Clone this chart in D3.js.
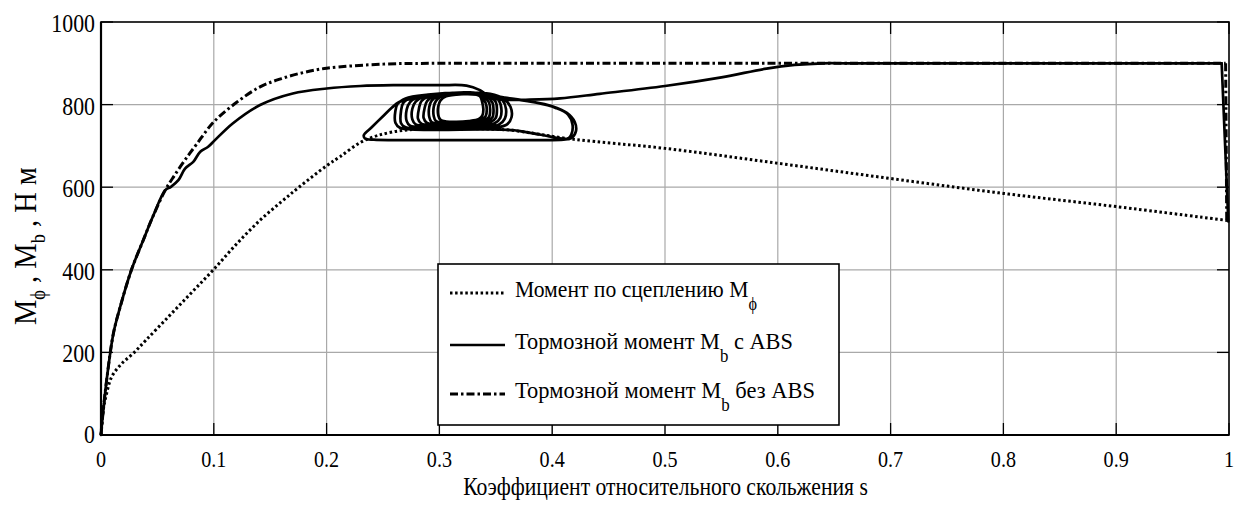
<!DOCTYPE html>
<html>
<head>
<meta charset="utf-8">
<script src="https://cdn.jsdelivr.net/npm/d3@7"></script>
<style>
  html, body { margin: 0; padding: 0; background: #fff; }
  svg { display: block; }
  text { font-family: "Liberation Serif", "Times New Roman", serif; fill: #000; }
</style>
</head>
<body>
<svg id="chart" width="1234" height="506"></svg>
<script>
// Slip axis ticks and labels
const slipTicks = [0, 0.1, 0.2, 0.3, 0.4, 0.5, 0.6, 0.7, 0.8, 0.9, 1];
const slipTickLabels = ["0", "0.1", "0.2", "0.3", "0.4", "0.5", "0.6", "0.7", "0.8", "0.9", "1"];
// Torque axis ticks and labels
const torqueTicks = [0, 200, 400, 600, 800, 1000];
const torqueTickLabels = ["0", "200", "400", "600", "800", "1000"];

// Adhesion (friction) torque M_phi versus slip s: [s, M]
const frictionTorque = [
  [0, 0], [0.002, 60], [0.005, 101], [0.0095, 141], [0.018, 172], [0.0287, 198],
  [0.04, 230], [0.06, 287], [0.08, 344], [0.0996, 400], [0.12, 462], [0.141, 520],
  [0.16, 565], [0.176, 601], [0.2, 652], [0.212, 674], [0.2325, 712], [0.259, 734],
  [0.3, 743], [0.34, 741], [0.363, 738], [0.419, 716], [0.5, 694], [0.6, 658],
  [0.7, 621], [0.8, 585], [0.9, 553], [1.0, 519]
];

// Brake torque with ABS: trajectory in (s, M), including the limit cycles
const brakeTorqueAbs = [
  [0, 0], [0.002, 60], [0.005, 133], [0.011, 246], [0.017, 310], [0.027, 400],
  [0.0375, 472], [0.046, 529], [0.057, 593], [0.062, 601], [0.0686, 617], [0.0745, 645],
  [0.082, 662], [0.088, 686], [0.095, 698], [0.101, 714], [0.117, 755], [0.141, 799],
  [0.17, 827], [0.2, 839], [0.23, 845], [0.259, 847], [0.3, 847], [0.324, 846],
  [0.336, 835], [0.343, 823],
  // first wide cycle
  [0.358, 817], [0.38, 808], [0.4, 796], [0.413, 780], [0.42, 758], [0.421, 735],
  [0.417, 719], [0.41, 715], [0.38, 714], [0.32, 714], [0.26, 714], [0.242, 715],
  [0.234, 718], [0.233, 726], [0.24, 745], [0.25, 772], [0.258, 793], [0.264, 806],
  [0.275, 814], [0.3, 822], [0.33, 826], [0.352, 820], [0.36, 816],
  [0.385, 805], [0.403, 792], [0.414, 776], [0.418, 752], [0.417, 728], [0.414, 718],
  [0.39, 727], [0.365, 738], [0.34, 740], [0.3, 739], [0.275, 740], [0.265, 744],
  [0.261, 756], [0.261, 785], [0.263, 802],
  // converging cycles
  [0.27, 815], [0.29, 824], [0.32, 829], [0.345, 826], [0.357, 814], [0.363, 795],
  [0.364, 770], [0.36, 752], [0.35, 744], [0.32, 742], [0.285, 742], [0.27, 745],
  [0.266, 755], [0.266, 785], [0.268, 804],
  [0.276, 817], [0.3, 826], [0.325, 829], [0.347, 824], [0.356, 810], [0.359, 790],
  [0.358, 766], [0.353, 752], [0.34, 746], [0.31, 744], [0.285, 745], [0.274, 749],
  [0.271, 760], [0.271, 788], [0.274, 806],
  [0.281, 818], [0.305, 827], [0.327, 829], [0.345, 823], [0.353, 808], [0.355, 788],
  [0.354, 768], [0.349, 755], [0.335, 749], [0.31, 747], [0.29, 748], [0.279, 752],
  [0.276, 764], [0.276, 790], [0.279, 807],
  [0.286, 819], [0.308, 827], [0.329, 829], [0.343, 822], [0.35, 806], [0.351, 786],
  [0.35, 768], [0.345, 757], [0.332, 751], [0.31, 749], [0.293, 750], [0.284, 754],
  [0.281, 766], [0.282, 792], [0.284, 808],
  [0.29, 819], [0.31, 827], [0.33, 829], [0.341, 821], [0.347, 805], [0.348, 786],
  [0.347, 769], [0.342, 759], [0.33, 753], [0.312, 751], [0.297, 752], [0.289, 756],
  [0.286, 768], [0.287, 793], [0.289, 808],
  [0.294, 819], [0.312, 827], [0.331, 828], [0.339, 820], [0.344, 805], [0.345, 787],
  [0.344, 770], [0.339, 761], [0.328, 755], [0.313, 753], [0.3, 754], [0.293, 758],
  [0.291, 770], [0.291, 794], [0.293, 809],
  [0.298, 819], [0.315, 826], [0.331, 827], [0.337, 819], [0.341, 804], [0.342, 788],
  [0.341, 772], [0.337, 763], [0.327, 757], [0.314, 755], [0.303, 756], [0.297, 760],
  [0.295, 772], [0.295, 795], [0.297, 809],
  [0.301, 819], [0.316, 826], [0.33, 826], [0.336, 820], [0.338, 805], [0.339, 788],
  [0.338, 773], [0.335, 765], [0.326, 760], [0.315, 758], [0.306, 759], [0.301, 763],
  [0.299, 774], [0.299, 796], [0.301, 810],
  // exit from the cycles towards wheel lock
  [0.306, 820], [0.32, 825], [0.333, 824], [0.342, 817], [0.355, 812], [0.38, 812],
  [0.407, 815], [0.442, 826], [0.5, 845], [0.55, 866], [0.59, 887], [0.615, 896],
  [0.64, 900], [0.66, 900], [0.7, 900], [0.8, 900], [0.9, 900], [0.96, 900],
  [0.985, 900], [0.9935, 900], [0.9994, 517]
];

// Brake torque without ABS: [s, M]
const brakeTorqueNoAbs = [
  [0, 0], [0.002, 60], [0.005, 133], [0.011, 246], [0.017, 310], [0.027, 400],
  [0.0375, 472], [0.046, 529], [0.057, 593], [0.065, 628], [0.075, 668], [0.085, 705],
  [0.0996, 757], [0.12, 805], [0.141, 843], [0.16, 863], [0.18, 878], [0.2, 888],
  [0.25, 898], [0.3, 900], [0.4, 900], [0.5, 900], [0.6, 900], [0.7, 900], [0.8, 900],
  [0.9, 900], [0.96, 900], [0.99, 900], [0.997, 900], [0.998, 520]
];

const legendLabels = [
  ["Момент по сцеплению M", "ϕ", ""],
  ["Тормозной момент M", "b", " с ABS"],
  ["Тормозной момент M", "b", " без ABS"]
];
const xAxisTitle = "Коэффициент относительного скольжения s";

// ---- layout ----
const svg = d3.select("#chart");
const plot = { left: 101, right: 1229, top: 22, bottom: 435 };

const x = d3.scaleLinear().domain([0, 1]).range([plot.left, plot.right]);
const y = d3.scaleLinear().domain([0, 1000]).range([plot.bottom, plot.top]);

// horizontal factor that makes a text element span the given width
function fitWidth(sel, width) {
  const w = sel.node().getComputedTextLength();
  return width / w;
}

// grid
const grid = svg.append("g").attr("stroke", "#a9a9a9").attr("stroke-width", 1.2);
grid.selectAll("line.vx").data(slipTicks.slice(1, -1)).join("line")
  .attr("x1", d => x(d)).attr("x2", d => x(d))
  .attr("y1", plot.top).attr("y2", plot.bottom);
grid.selectAll("line.hy").data(torqueTicks.slice(1, -1)).join("line")
  .attr("y1", d => y(d)).attr("y2", d => y(d))
  .attr("x1", plot.left).attr("x2", plot.right);

// inward tick marks on all four sides
const tickLen = 12;
const ticks = svg.append("g").attr("stroke", "#000").attr("stroke-width", 1.3);
slipTicks.forEach(t => {
  ticks.append("line").attr("x1", x(t)).attr("x2", x(t)).attr("y1", plot.bottom).attr("y2", plot.bottom - tickLen);
  ticks.append("line").attr("x1", x(t)).attr("x2", x(t)).attr("y1", plot.top).attr("y2", plot.top + tickLen);
});
torqueTicks.forEach(t => {
  ticks.append("line").attr("y1", y(t)).attr("y2", y(t)).attr("x1", plot.left).attr("x2", plot.left + tickLen);
  ticks.append("line").attr("y1", y(t)).attr("y2", y(t)).attr("x1", plot.right).attr("x2", plot.right - tickLen);
});

// curves: smooth through the points, the final lock-up drop drawn straight
const smooth = d3.line()
  .x(d => x(d[0])).y(d => y(d[1]))
  .curve(d3.curveCatmullRom.alpha(0.5));
const straight = d3.line().x(d => x(d[0])).y(d => y(d[1]));

const curves = svg.append("g").attr("fill", "none").attr("stroke", "#000")
  .attr("stroke-linejoin", "round");

curves.append("path").datum(frictionTorque)
  .attr("d", smooth).attr("stroke-width", 3).attr("stroke-dasharray", "2.5,2.6");

curves.append("path").datum(brakeTorqueNoAbs.slice(0, -1))
  .attr("d", smooth).attr("stroke-width", 3).attr("stroke-dasharray", "8,3,2.5,3");
curves.append("path").datum(brakeTorqueNoAbs.slice(-2))
  .attr("d", straight).attr("stroke-width", 3).attr("stroke-dasharray", "8,3,2.5,3");

curves.append("path").datum(brakeTorqueAbs.slice(0, -1))
  .attr("d", smooth).attr("stroke-width", 2.7).attr("stroke-linecap", "round");
curves.append("path").datum(brakeTorqueAbs.slice(-2))
  .attr("d", straight).attr("stroke-width", 2.7).attr("stroke-linecap", "round");

// frame
svg.append("rect")
  .attr("x", plot.left).attr("y", plot.top)
  .attr("width", plot.right - plot.left).attr("height", plot.bottom - plot.top)
  .attr("fill", "none").attr("stroke", "#000").attr("stroke-width", 1.6);
svg.append("line").attr("x1", plot.left).attr("x2", plot.left)
  .attr("y1", plot.top).attr("y2", plot.bottom).attr("stroke", "#000").attr("stroke-width", 2.2);
svg.append("line").attr("x1", plot.left).attr("x2", plot.right)
  .attr("y1", plot.bottom).attr("y2", plot.bottom).attr("stroke", "#000").attr("stroke-width", 2.2);

// tick labels
const tickSx = 0.84;
torqueTicks.forEach((t, i) => {
  const yy = t === 0 ? y(t) + 8 : y(t) + 10;
  svg.append("text")
    .attr("transform", `translate(${plot.left - 6},${yy}) scale(${tickSx},1)`)
    .attr("text-anchor", "end").attr("font-size", 26)
    .text(torqueTickLabels[i]);
});
slipTicks.forEach((t, i) => {
  svg.append("text")
    .attr("transform", `translate(${x(t)},467) scale(${tickSx},1)`)
    .attr("text-anchor", "middle").attr("font-size", 24)
    .text(slipTickLabels[i]);
});

// x axis title
const xt = svg.append("text").attr("font-size", 25).attr("text-anchor", "middle").text(xAxisTitle);
xt.attr("transform", `translate(665.5,495) scale(${fitWidth(xt, 405)},1)`);

// y axis title with subscripts
const yt = svg.append("text").attr("font-size", 31);
yt.append("tspan").text("M");
yt.append("tspan").attr("font-size", 20).attr("dy", 9).text("ϕ");
yt.append("tspan").attr("dy", -9).text(" , M");
yt.append("tspan").attr("font-size", 20).attr("dy", 9).text("b");
yt.append("tspan").attr("dy", -9).text(" , Н м");
yt.attr("transform", `translate(36,325) rotate(-90) scale(${fitWidth(yt, 158)},1)`);

// legend
const legend = svg.append("g");
legend.append("rect")
  .attr("x", 438).attr("y", 264).attr("width", 401).attr("height", 161)
  .attr("fill", "#fff").attr("stroke", "#000").attr("stroke-width", 1.6);
const legendRows = [293, 345, 394];
const legendDash = ["2.5,2.6", null, "8,3,2.5,3"];
const legendWidths = [242, 278, 300];
legendLabels.forEach((lab, i) => {
  const ly = legendRows[i];
  const sample = legend.append("line")
    .attr("x1", 450).attr("x2", 505).attr("y1", ly).attr("y2", ly)
    .attr("stroke", "#000").attr("stroke-width", i === 1 ? 2.7 : 3);
  if (legendDash[i]) sample.attr("stroke-dasharray", legendDash[i]);
  const t = legend.append("text").attr("font-size", 24);
  t.append("tspan").text(lab[0]);
  t.append("tspan").attr("font-size", 18).attr("dy", 13).text(lab[1]);
  if (lab[2]) t.append("tspan").attr("dy", -13).text(lab[2]);
  t.attr("transform", `translate(515,${ly + 4}) scale(${fitWidth(t, legendWidths[i])},1)`);
});
</script>
</body>
</html>
